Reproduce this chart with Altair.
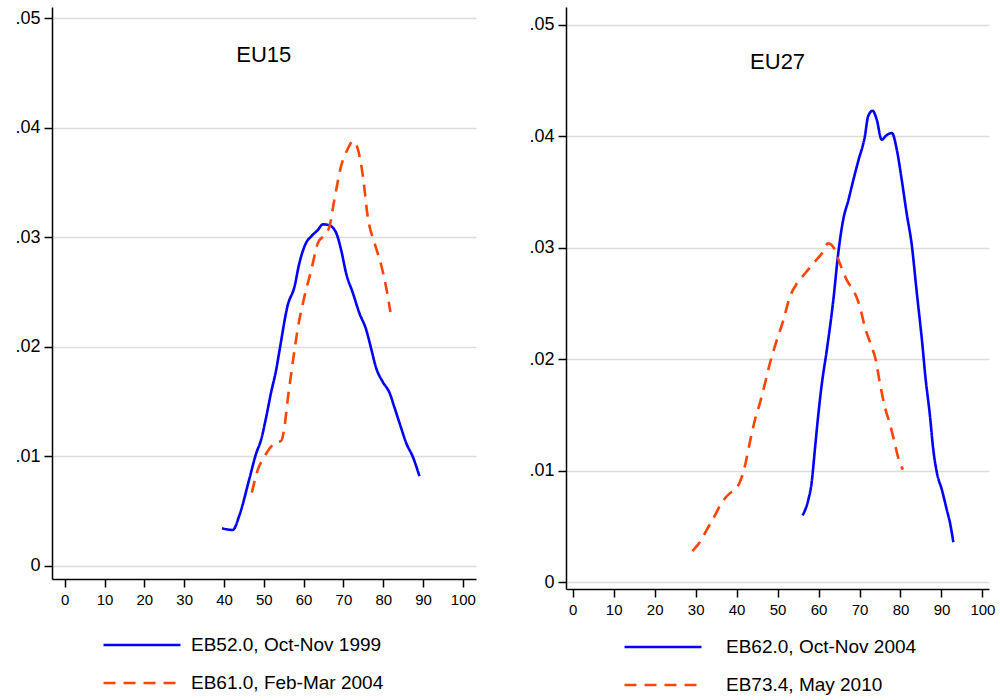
import altair as alt
import pandas as pd

FONT = "Liberation Sans"
BLUE = "#0000FF"
ORANGE = "#FF4500"

# ---- EU15 panel ----
eu15_title = "EU15"
eu15_s1 = "EB52.0, Oct-Nov 1999"
eu15_s1_x = [39.5, 42.2, 43.9, 46.4, 48.1, 49.3, 50.6, 51.8, 53.1, 54.0, 56.0, 57.7, 58.9,
             60.6, 61.9, 63.6, 64.8, 66.5, 68.2, 69.4, 70.7, 72.4, 74.0, 75.7, 77.0, 78.2,
             79.9, 81.6, 82.8, 84.5, 85.8, 87.4, 89.1]
eu15_s1_y = [0.00344, 0.00329, 0.00466, 0.0080, 0.0103, 0.0115, 0.0136, 0.0158, 0.0179,
             0.0198, 0.0238, 0.0255, 0.0276, 0.0295, 0.0301, 0.0307, 0.0312, 0.0311, 0.0304,
             0.0289, 0.0267, 0.0249, 0.0231, 0.0216, 0.0198, 0.0181, 0.0168, 0.0158, 0.0145,
             0.0126, 0.0112, 0.0100, 0.0082]
eu15_s2 = "EB61.0, Feb-Mar 2004"
eu15_s2_x = [47.0, 48.5, 50.2, 51.4, 53.1, 54.3, 55.2, 56.0, 56.9, 57.7, 58.5, 60.2, 61.9,
             63.6, 65.7, 66.5, 67.7, 69.4, 71.1, 72.4, 73.6, 74.9, 76.1, 77.8, 79.4, 80.7, 81.8]
eu15_s2_y = [0.0067, 0.0088, 0.0100, 0.0107, 0.0113, 0.0114, 0.0127, 0.0152, 0.0176, 0.0197,
             0.0216, 0.0246, 0.0270, 0.0295, 0.0304, 0.0310, 0.0334, 0.0365, 0.0381, 0.0388,
             0.0381, 0.0356, 0.0319, 0.0295, 0.0276, 0.0255, 0.0232]

# ---- EU27 panel ----
eu27_title = "EU27"
eu27_s1 = "EB62.0, Oct-Nov 2004"
eu27_s1_x = [56.1, 57.5, 58.3, 59.1, 59.9, 60.8, 62.0, 63.6, 64.8, 66.0, 67.3, 68.5, 69.7,
             71.3, 72.1, 73.2, 74.2, 75.4, 76.6, 77.9, 79.1, 80.3, 81.5, 82.7, 84.0, 85.4,
             86.0, 87.2, 88.0, 88.9, 90.1, 91.3, 92.1, 92.9]
eu27_s1_y = [0.0060, 0.0074, 0.0089, 0.0119, 0.0149, 0.0178, 0.0208, 0.0253, 0.0295, 0.0325,
             0.0343, 0.0361, 0.0378, 0.0400, 0.0418, 0.0423, 0.0415, 0.0397, 0.0401, 0.0403,
             0.0388, 0.0361, 0.0331, 0.0304, 0.0259, 0.0211, 0.0187, 0.0149, 0.0119, 0.0098,
             0.0083, 0.0065, 0.0053, 0.0036]
eu27_s2 = "EB73.4, May 2010"
eu27_s2_x = [29.2, 31.0, 32.7, 34.7, 36.3, 38.4, 39.6, 40.8, 42.0, 43.2, 44.5, 45.7, 46.9,
             48.1, 49.8, 51.4, 53.0, 54.7, 56.7, 58.7, 60.8, 62.4, 64.0, 65.2, 66.9, 68.9,
             70.1, 71.3, 73.0, 73.8, 75.0, 76.2, 77.5, 78.7, 79.5, 80.6]
eu27_s2_y = [0.0028, 0.0036, 0.0047, 0.0060, 0.0071, 0.0080, 0.0083, 0.0090, 0.0104, 0.0125,
             0.0146, 0.0161, 0.0178, 0.0196, 0.0217, 0.0235, 0.0256, 0.0268, 0.0277, 0.0286,
             0.0295, 0.0304, 0.0298, 0.0286, 0.0271, 0.0259, 0.0247, 0.0229, 0.0211, 0.0202,
             0.0178, 0.0157, 0.0141, 0.0123, 0.0111, 0.0101]

x_ticks = [0, 10, 20, 30, 40, 50, 60, 70, 80, 90, 100]
y_ticks = [0, 0.01, 0.02, 0.03, 0.04, 0.05]
title_pos = (50, 0.0467)

# wide, flat legend key: a horizontal segment 4x the symbol "radius" each side
LEGEND_KEY = "M-4,0H4"


def panel(title, s1, x1, y1, s2, x2, y2, xdom, ydom, w, h, legx, legy, laboff):
    df = pd.DataFrame({
        "x": x1 + x2,
        "y": y1 + y2,
        "series": [s1] * len(x1) + [s2] * len(x2),
    })
    xenc = alt.X("x:Q", scale=alt.Scale(domain=xdom, nice=False, zero=False),
                 axis=alt.Axis(values=x_ticks, title=None, grid=False, labelFontSize=15,
                               labelPadding=5, format="d"))
    yenc = alt.Y("y:Q", scale=alt.Scale(domain=ydom, nice=False, zero=False),
                 axis=alt.Axis(values=y_ticks, title=None, grid=True, labelFontSize=18,
                               labelPadding=4,
                               labelExpr="datum.value == 0 ? '0' : replace(format(datum.value, '.2f'), '0.', '.')"))
    leg = alt.Legend(orient="none", legendX=legx, legendY=legy, direction="vertical",
                     title=None, symbolType=LEGEND_KEY, symbolSize=370,
                     symbolStrokeWidth=2.6, labelFontSize=19, labelFont=FONT,
                     labelColor="black", labelOffset=laboff, rowPadding=17, padding=0,
                     labelLimit=400)
    lines = alt.Chart(df).mark_line(strokeWidth=2.6, interpolate="monotone").encode(
        x=xenc,
        y=yenc,
        color=alt.Color("series:N", scale=alt.Scale(domain=[s1, s2], range=[BLUE, ORANGE]),
                        legend=leg),
        strokeDash=alt.StrokeDash("series:N",
                                  scale=alt.Scale(domain=[s1, s2], range=[[1, 0], [12, 8]]),
                                  legend=leg),
    )
    tdf = pd.DataFrame({"x": [title_pos[0]], "y": [title_pos[1]], "label": [title]})
    txt = alt.Chart(tdf).mark_text(fontSize=22, font=FONT, color="black", align="center",
                                   baseline="middle").encode(
        x=alt.X("x:Q"), y=alt.Y("y:Q"), text="label:N")
    return alt.layer(lines, txt).properties(width=w, height=h)


left = panel(eu15_title, eu15_s1, eu15_s1_x, eu15_s1_y, eu15_s2, eu15_s2_x, eu15_s2_y,
             [-3.2, 103.3], [-0.00119, 0.05105], 424, 572, 79, 627, 38)
right = panel(eu27_title, eu27_s1, eu27_s1_x, eu27_s1_y, eu27_s2, eu27_s2_x, eu27_s2_y,
              [-1.64, 101.6], [-0.0006, 0.0516], 423, 582, 86, 629, 52)

chart = alt.hconcat(left, right, spacing=52).resolve_scale(
    color="independent", strokeDash="independent", x="independent", y="independent"
).properties(
    padding={"left": 14, "top": 7, "right": 0, "bottom": 0}
).configure_view(stroke=None).configure_axis(
    labelFont=FONT, labelColor="black", domainColor="black", domainWidth=1.5,
    tickColor="black", tickWidth=1.5, tickSize=8, gridColor="#dcdcdc", gridWidth=1.5
).configure_legend(labelFont=FONT)

chart.save("out.html", embed_options={"renderer": "svg", "actions": False})
